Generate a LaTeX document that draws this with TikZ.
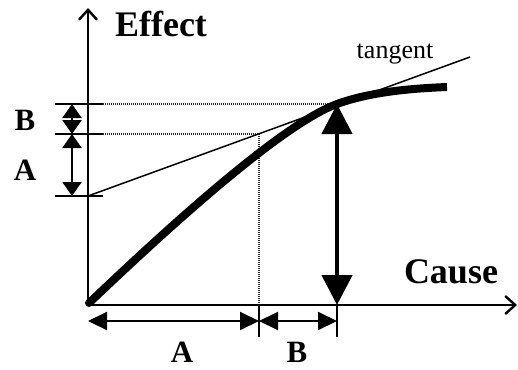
\documentclass[tikz,border=0pt]{standalone}
\usepackage{fontspec}
\setmainfont{Liberation Serif}
\usetikzlibrary{arrows.meta}
\begin{document}
\begin{tikzpicture}[x=1pt,y=-1pt,
  axis/.style={line width=2pt,-{Straight Barb[length=10pt,width=18pt,line width=2.4pt]}},
  tickline/.style={line width=1.6pt},
  dots/.style={line width=1.6pt,dash pattern=on 1.2pt off 0.8pt,black!85},
  vdim/.style={line width=2pt,{Triangle[length=14pt,width=19pt]}-{Triangle[length=14pt,width=19pt]}},
  hdim/.style={line width=2pt,{Triangle[length=19pt,width=18pt]}-{Triangle[length=19pt,width=18pt]}},
  bigarrow/.style={line width=4.5pt,{Triangle[length=30pt,width=30pt]}-{Triangle[length=30pt,width=30pt]}},
  axlabel/.style={font=\fontsize{36}{36}\selectfont\bfseries,anchor=base,inner sep=0pt},
  lbl/.style={font=\fontsize{31}{31}\selectfont\bfseries,anchor=base,inner sep=0pt},
  tlabel/.style={font=\fontsize{26}{26}\selectfont,anchor=base,inner sep=0pt}
]
\useasboundingbox (0,0) rectangle (518,369);
% key coordinates
\coordinate (O) at (88,305);
\coordinate (Ytip) at (88,8);
\coordinate (Xtip) at (517,305);
\coordinate (Ltop) at (55,104);
\coordinate (Lmid) at (55,134);
\coordinate (Lbot) at (55,196);
\coordinate (Rtop) at (103,104);
\coordinate (Rmid) at (103,134);
\coordinate (Rbot) at (103,196);
\coordinate (Ttop) at (337,104);
\coordinate (Tmid) at (259,134);
\coordinate (T0) at (88,196);
\coordinate (Tend) at (470,57);
\coordinate (Xa) at (259,305);
\coordinate (Xb) at (337,305);
\coordinate (Xa2) at (259,337);
\coordinate (Xb2) at (337,337);
\coordinate (VB1) at (72,104);
\coordinate (VB2) at (72,134);
\coordinate (VA2) at (72,196);
\coordinate (HA1) at (88,321);
\coordinate (HA2) at (259,321);
\coordinate (HB2) at (337,321);
\coordinate (C0) at (89,303);
\coordinate (C1) at (447,87);

% dotted guides
\draw[dots] (Rtop) -- (Ttop);
\draw[dots] (Rmid) -- (Tmid);
\draw[dots] (Tmid) -- (Xa);

% ticks
\draw[tickline] (Ltop) -- (Rtop);
\draw[tickline] (Lmid) -- (Rmid);
\draw[tickline] (Lbot) -- (Rbot);
\draw[tickline] (Xa) -- (Xa2);
\draw[tickline] (Xb) -- (Xb2);

% axes
\draw[axis] (O) -- (Ytip);
\draw[axis] (O) -- (Xtip);

% tangent
\draw[line width=1.5pt] (T0) -- (Tend);

% curve
\draw[line width=8pt,line cap=butt] (C0) .. controls (149,246) and (277,126) .. (Ttop)
  .. controls (370,92) and (410,88.5) .. (C1);
\fill (C0) circle (4pt);

% big arrow
\draw[bigarrow] (Ttop) -- (Xb);

% dimension arrows
\draw[vdim] (VB1) -- (VB2);
\draw[vdim] (VB2) -- (VA2);
\draw[hdim] (HA1) -- (HA2);
\draw[hdim] (HA2) -- (HB2);

% labels
\node[axlabel] (effect) at (161,37) {Effect};
\node[axlabel] (cause) at (451,283) {Cause};
\node[tlabel] (tangent) at (395,59) {tangent};
\node[lbl] (lB) at (25,130) {B};
\node[lbl] (lA) at (25,180) {A};
\node[lbl] (bA) at (182,362) {A};
\node[lbl] (bB) at (297,362) {B};
\end{tikzpicture}
\end{document}
